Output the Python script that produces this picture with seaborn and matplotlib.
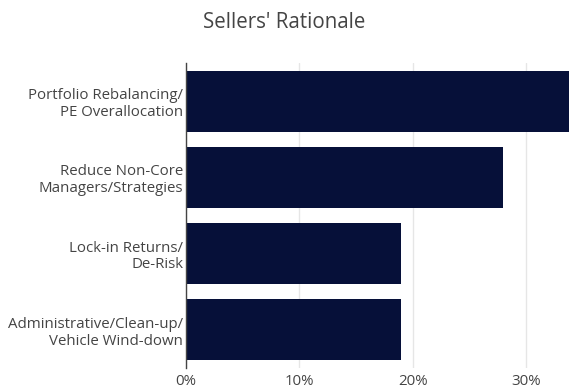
import matplotlib
matplotlib.use("Agg")
import matplotlib.pyplot as plt
import seaborn as sns
import pandas as pd
from matplotlib.ticker import FuncFormatter

categories = ["Portfolio Rebalancing/\nPE Overallocation",
              "Reduce Non-Core\nManagers/Strategies",
              "Lock-in Returns/\nDe-Risk",
              "Administrative/Clean-up/\nVehicle Wind-down"]
values = [34.0, 28.0, 19.0, 19.0]
xticks = [0, 10, 20, 30]

df = pd.DataFrame({"reason": categories, "share": values})

sns.set_theme(style="white")
plt.rcParams['font.family'] = ['Open Sans', 'DejaVu Sans']

fig = plt.figure(figsize=(5.69, 3.88), dpi=100)
ax = fig.add_axes([186/569, 20/388, 1 - 186/569, 305/388])

sns.barplot(data=df, x="share", y="reason", orient="h", color="#061039",
            saturation=1, width=0.8, linewidth=0, ax=ax, zorder=3)

ax.set_xlim(0, 33.8)
ax.set_ylim(3.5, -0.5)
ax.set_xticks(xticks)
ax.xaxis.set_major_formatter(FuncFormatter(lambda v, p: f"{v:.0f}%"))
ax.grid(axis="x", color="#e6e6e6", linewidth=1, zorder=0)
ax.set_xlabel("")
ax.set_ylabel("")
for s in ["top", "right", "bottom"]:
    ax.spines[s].set_visible(False)
ax.spines["left"].set_color("#444444")
ax.spines["left"].set_linewidth(1)
ax.spines["left"].set_zorder(5)
ax.tick_params(axis="both", length=0, labelsize=10.8, colors="#444444")
ax.tick_params(axis="y", pad=2)
ax.tick_params(axis="x", pad=4)
for lbl in ax.get_yticklabels():
    lbl.set_horizontalalignment("right")
    lbl.set_multialignment("right")
    lbl.set_linespacing(1.15)

fig.text(0.5, 1 - 23/388, "Sellers' Rationale", ha="center", va="center",
         fontsize=14.8, color="#444444")

fig.savefig("out.png", dpi=100)
